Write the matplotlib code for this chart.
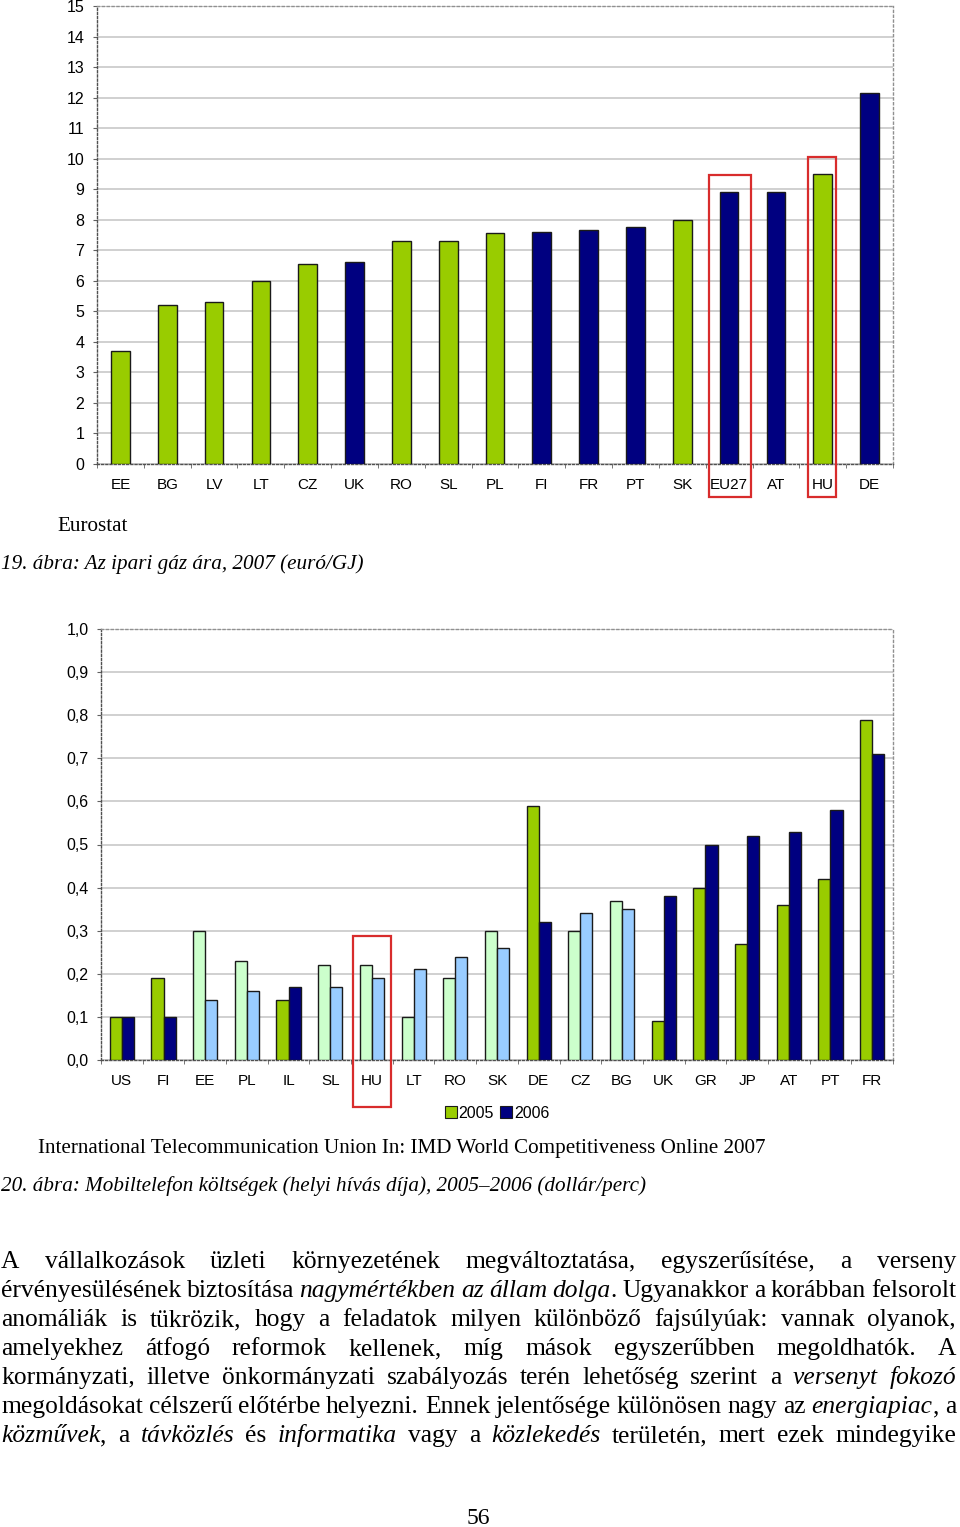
import numpy as np
import matplotlib
matplotlib.use('Agg')
import matplotlib.pyplot as plt
from matplotlib.patches import Rectangle, Patch

# 19. ábra: ipari gáz ára, 2007 (euró/GJ)
gas_countries = ['EE', 'BG', 'LV', 'LT', 'CZ', 'UK', 'RO', 'SL', 'PL', 'FI', 'FR',
                 'PT', 'SK', 'EU27', 'AT', 'HU', 'DE']
gas_prices = [3.7, 5.2, 5.3, 6.0, 6.55, 6.6, 7.3, 7.3, 7.55, 7.6, 7.65,
              7.75, 8.0, 8.9, 8.9, 9.5, 12.15]
gas_new_members = ['EE', 'BG', 'LV', 'LT', 'CZ', 'RO', 'SL', 'PL', 'SK', 'HU']
gas_marked = ['EU27', 'HU']

# 20. ábra: mobiltelefon költségek, 2005-2006 (dollár/perc)
mob_countries = ['US', 'FI', 'EE', 'PL', 'IL', 'SL', 'HU', 'LT', 'RO', 'SK',
                 'DE', 'CZ', 'BG', 'UK', 'GR', 'JP', 'AT', 'PT', 'FR']
mob_2005 = [0.10, 0.19, 0.30, 0.23, 0.14, 0.22, 0.22, 0.10, 0.19, 0.30,
            0.59, 0.30, 0.37, 0.09, 0.40, 0.27, 0.36, 0.42, 0.79]
mob_2006 = [0.10, 0.10, 0.14, 0.16, 0.17, 0.17, 0.19, 0.21, 0.24, 0.26,
            0.32, 0.34, 0.35, 0.38, 0.50, 0.52, 0.53, 0.58, 0.71]
mob_light = ['EE', 'PL', 'SL', 'HU', 'LT', 'RO', 'SK', 'CZ', 'BG']
mob_marked = ['HU']
mob_years = ['2005', '2006']

paragraph = [
    "A vállalkozások üzleti környezetének megváltoztatása, egyszerűsítése, a verseny",
    "érvényesülésének biztosítása *nagymértékben az állam dolga*. Ugyanakkor a korábban felsorolt",
    "anomáliák is tükrözik, hogy a feladatok milyen különböző fajsúlyúak: vannak olyanok,",
    "amelyekhez átfogó reformok kellenek, míg mások egyszerűbben megoldhatók. A",
    "kormányzati, illetve önkormányzati szabályozás terén lehetőség szerint a *versenyt fokozó*",
    "megoldásokat célszerű előtérbe helyezni. Ennek jelentősége különösen nagy az *energiapiac*, a",
    "*közművek*, a *távközlés* és *informatika* vagy a *közlekedés* területén, mert ezek mindegyike",
]

GREEN = '#99cc00'
NAVY = '#000080'
LGREEN = '#ccffcc'
LBLUE = '#99ccff'
RED = '#d82c2c'
SANS = 'Liberation Sans'
SERIF = 'Liberation Serif'

W, H = 960, 1527
fig = plt.figure(figsize=(W / 100, H / 100), dpi=100)


def px_axes(left, top, right, bottom):
    return fig.add_axes([left / W, 1 - bottom / H, (right - left) / W, (bottom - top) / H])


def style_axes(ax, n):
    ax.set_xlim(-0.5, n - 0.5)
    for side in ['top', 'right']:
        ax.spines[side].set_linestyle((0, (1.5, 2)))
        ax.spines[side].set_color('#909090')
        ax.spines[side].set_linewidth(1)
    for side in ['left', 'bottom']:
        ax.spines[side].set_linestyle((0, (1.5, 1.5)))
        ax.spines[side].set_color('#505050')
        ax.spines[side].set_linewidth(1)
    ax.grid(axis='y', color='#c8c8c8', linewidth=1.2)
    ax.set_axisbelow(True)
    ax.set_xticks(np.arange(-0.5, n, 1), minor=True)
    ax.tick_params(axis='x', which='major', length=0, pad=10, labelsize=11)
    ax.tick_params(axis='x', which='minor', length=3, color='#606060')
    ax.tick_params(axis='y', length=3, color='#606060', pad=6, labelsize=11.5)
    for lab in ax.get_xticklabels() + ax.get_yticklabels():
        lab.set_family(SANS)


# ---- chart 1
ax1 = px_axes(97, 6, 893, 464)
x1 = np.arange(len(gas_countries))
colors1 = [GREEN if c in gas_new_members else NAVY for c in gas_countries]
ax1.bar(x1, gas_prices, width=0.4, color=colors1, edgecolor='#1a1a1a', linewidth=1, zorder=3)
ax1.set_ylim(0, 15)
ax1.set_yticks(range(0, 16))
ax1.set_xticks(x1)
ax1.set_xticklabels(gas_countries)
style_axes(ax1, len(gas_countries))
# highlight boxes (EU27 box wider than the HU one, as in the original)
box_half = {'EU27': (0.42, 0.46), 'HU': (0.31, 0.28)}
for c in gas_marked:
    i = gas_countries.index(c)
    top = gas_prices[i] + 0.55
    lo, hi = box_half[c]
    ax1.add_patch(Rectangle((i - lo, -1.08), lo + hi, top + 1.08, fill=False,
                            edgecolor=RED, linewidth=1.6, clip_on=False, zorder=5))

# ---- chart 2
ax2 = px_axes(101, 629, 893, 1060)
x2 = np.arange(len(mob_countries))
c05 = [LGREEN if c in mob_light else GREEN for c in mob_countries]
c06 = [LBLUE if c in mob_light else NAVY for c in mob_countries]
bw = 0.29
ax2.bar(x2 - bw / 2, mob_2005, width=bw, color=c05, edgecolor='#1a1a1a', linewidth=1, zorder=3)
ax2.bar(x2 + bw / 2, mob_2006, width=bw, color=c06, edgecolor='#1a1a1a', linewidth=1, zorder=3)
ax2.set_ylim(0, 1.0)
yt = np.round(np.arange(0, 1.01, 0.1), 1)
ax2.set_yticks(yt)
ax2.set_yticklabels([f"{v:.1f}".replace('.', ',') for v in yt])
ax2.set_xticks(x2)
ax2.set_xticklabels(mob_countries)
style_axes(ax2, len(mob_countries))
for c in mob_marked:
    i = mob_countries.index(c)
    top = max(mob_2005[i], mob_2006[i]) + 0.068
    ax2.add_patch(Rectangle((i - 0.45, -0.109), 0.91, top + 0.109, fill=False,
                            edgecolor=RED, linewidth=1.6, clip_on=False, zorder=5))

handles = [Patch(facecolor=GREEN, edgecolor='#1a1a1a', linewidth=0.8),
           Patch(facecolor=NAVY, edgecolor='#1a1a1a', linewidth=0.8)]
fig.legend(handles, mob_years, loc='center', bbox_to_anchor=(497 / W, 1 - 1113 / H),
           ncol=2, frameon=False, handlelength=0.75, handleheight=0.75,
           handletextpad=0.1, columnspacing=0.4, borderpad=0,
           prop={'family': SANS, 'size': 11.5})

# ---- captions
def ftext(x, y, s, **kw):
    return fig.text(x / W, 1 - y / H, s, va='baseline', family=SERIF, **kw)


ftext(57, 531, "Eurostat", fontsize=15.2)
ftext(1, 569, "19. ábra: Az ipari gáz ára, 2007 (euró/GJ)", fontsize=15.2, style='italic')
ftext(38, 1153, "International Telecommunication Union In: IMD World Competitiveness Online 2007",
      fontsize=15.2)
ftext(1, 1191, "20. ábra: Mobiltelefon költségek (helyi hívás díja), 2005–2006 (dollár/perc)",
      fontsize=15.2, style='italic')
ftext(478, 1524, "56", fontsize=17, ha='center')

# ---- justified paragraph
renderer = fig.canvas.get_renderer()
left, right = 1, 956
for k, line in enumerate(paragraph):
    y = 1268 + k * 29
    italic = False
    words = []
    for w in line.split(' '):
        segs = []
        for j, part in enumerate(w.split('*')):
            if j > 0:
                italic = not italic
            if part:
                t = ftext(0, y, part, fontsize=18.4, style='italic' if italic else 'normal')
                segs.append((t, t.get_window_extent(renderer).width))
        words.append(segs)
    total = sum(wd for segs in words for _, wd in segs)
    gap = (right - left - total) / (len(words) - 1)
    x = left
    for segs in words:
        for t, wd in segs:
            t.set_x(x / W)
            x += wd
        x += gap

fig.savefig('out.png', dpi=100)
